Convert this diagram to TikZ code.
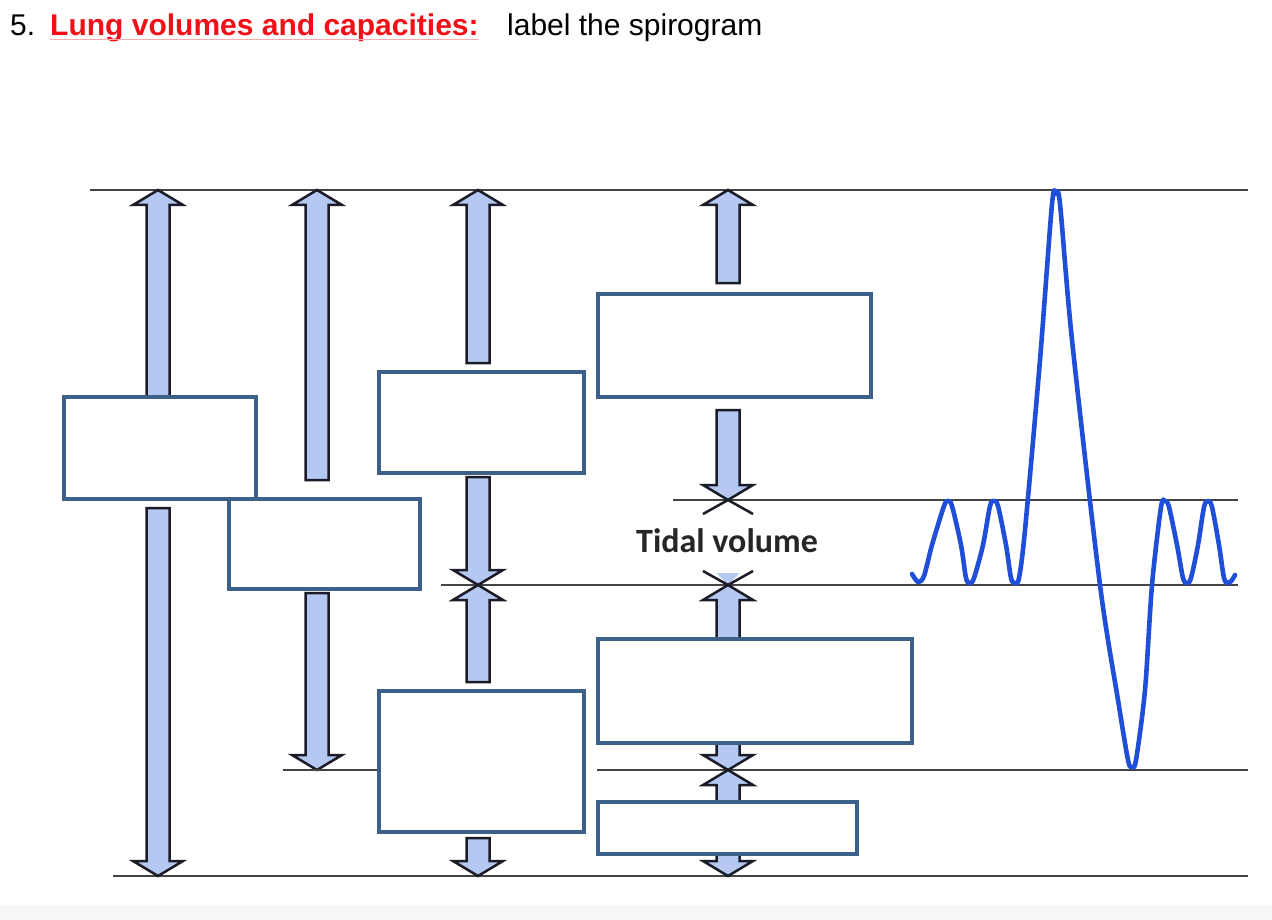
\documentclass[tikz,border=0pt]{standalone}
\usepackage{fontspec}
\setmainfont{Liberation Sans}
\newfontfamily\calib{Carlito}
\definecolor{linegray}{HTML}{444444}
\definecolor{boxblue}{HTML}{3D6089}
\definecolor{arrblue}{HTML}{B4C8F2}
\definecolor{arrdark}{HTML}{1C1C28}
\definecolor{waveblue}{HTML}{1F4FD8}
\definecolor{titlered}{HTML}{F01018}
\tikzset{
  hline/.style={draw=linegray, line width=2.8pt},
  lbox/.style={draw=boxblue, line width=3.6pt, fill=white, rectangle, inner sep=0pt, anchor=north west},
  arrbody/.style={fill=arrblue, draw=arrdark, line width=2.5pt, line join=miter},
  wave/.style={draw=waveblue, line width=4.6pt, line cap=round, line join=round},
  ttl/.style={anchor=base west, inner sep=0pt, font=\fontsize{30}{34}\selectfont}
}
\newcommand{\spUp}[3]{\filldraw[arrbody] (#1,#2) -- ({#1+25},{#2+15}) -- ({#1+11.5},{#2+15}) -- ({#1+11.5},#3) -- ({#1-11.5},#3) -- ({#1-11.5},{#2+15}) -- ({#1-25},{#2+15}) -- cycle;}
\newcommand{\spDown}[3]{\filldraw[arrbody] (#1,#2) -- ({#1+25},{#2-15}) -- ({#1+11.5},{#2-15}) -- ({#1+11.5},#3) -- ({#1-11.5},#3) -- ({#1-11.5},{#2-15}) -- ({#1-25},{#2-15}) -- cycle;}
\newcommand{\spHeadUp}[2]{\draw[arrdark, line width=2.5pt] ({#1-25},{#2+14}) -- (#1,#2) -- ({#1+25},{#2+14});}
\newcommand{\spHeadDown}[2]{\fill[arrblue] (#1,#2) -- ({#1+11.5},{#2-12}) -- ({#1-11.5},{#2-12}) -- cycle; \draw[arrdark, line width=2.5pt] ({#1-25},{#2-14}) -- (#1,#2) -- ({#1+25},{#2-14});}
\begin{document}
\begin{tikzpicture}[x=1pt,y=-1pt]
\useasboundingbox (0,0) rectangle (1272,920);
\fill[white] (0,0) rectangle (1272,905);
\fill[gray!7] (0,905) rectangle (1272,920);

% title
\node[ttl] (num) at (10,36) {5.};
\node[ttl, text=titlered, font=\fontsize{30}{34}\selectfont\bfseries] (red) at (50,36) {Lung volumes and capacities:};
\node[ttl] (rest) at (507,36) {label the spirogram};
\draw[titlered!35, line width=1pt] (red.base west) ++(0,4) coordinate (u0) -- (u0 -| red.base east);

% horizontal level lines
\coordinate (t0) at (90,190);   \coordinate (t1) at (1248,190);
\coordinate (a0) at (673,500);  \coordinate (a1) at (1238,500);
\coordinate (m0) at (441,585);  \coordinate (m1) at (1238,585);
\coordinate (s0) at (283,770);
\coordinate (r0) at (597,770);  \coordinate (r1) at (1248,770);
\coordinate (z0) at (113,876);  \coordinate (z1) at (1248,876);
\draw[hline] (t0) -- (t1);
\draw[hline] (a0) -- (a1);
\draw[hline] (m0) -- (m1);
\draw[hline] (r0) -- (r1);
\draw[hline] (z0) -- (z1);

% arrows column 1
\spUp{158}{190}{420}
\spDown{158}{876}{508}
% column 2
\spUp{317}{190}{480}
\spDown{317}{770}{593}
% column 3
\spUp{478}{190}{363}
\spDown{478}{585}{477}
\spUp{478}{585}{682}
\spDown{478}{876}{838}
% column 4
\spUp{728}{190}{283}
\spDown{728}{500}{410}
\spHeadUp{728}{500}
\spHeadDown{728}{585}
\spUp{728}{585}{650}
\spDown{728}{770}{730}
\spUp{728}{770}{812}
\spDown{728}{876}{840}

% boxes
\node[lbox, minimum width=192pt, minimum height=102pt] (b1) at (62,395) {};
\node[lbox, minimum width=191pt, minimum height=90pt] (b2) at (227,497) {};
\node[lbox, minimum width=205pt, minimum height=101pt] (b3) at (377,370) {};
\node[lbox, minimum width=273pt, minimum height=103pt] (b4) at (596,292) {};
\node[lbox, minimum width=314pt, minimum height=104pt] (b5) at (596,637) {};
\node[lbox, minimum width=205pt, minimum height=141pt] (b6) at (377,689) {};
\node[lbox, minimum width=259pt, minimum height=52pt] (b7) at (596,800) {};
\draw[hline] (s0) -- (s0 -| b6.west);

% tidal volume label
\node[anchor=base, inner sep=0pt, font=\calib\bfseries\fontsize{34}{38}\selectfont, text=black!85] (tv) at (727,552) {Tidal volume};

% spirogram trace
\draw[wave] plot[smooth, tension=0.5] coordinates {
 (912,574) (918,582) (924,576) (932,545) (944,506) (948,501) (952,506) (961,545)
 (966,578) (970,583) (974,578) (983,545) (990,506) (994,501) (998,506) (1006,545)
 (1011,578) (1015,583) (1019,578) (1025,530) (1040,360) (1052,204) (1056,194)
 (1060,204) (1072,340) (1100,585) (1118,700) (1128,760) (1132,767) (1136,760)
 (1145,690) (1152,585) (1161,507) (1165,501) (1169,507) (1177,545) (1183,578)
 (1187,583) (1191,578) (1198,545) (1204,507) (1208,501) (1212,507) (1219,545)
 (1224,578) (1228,583) (1232,580) (1235,575)};
\end{tikzpicture}
\end{document}
